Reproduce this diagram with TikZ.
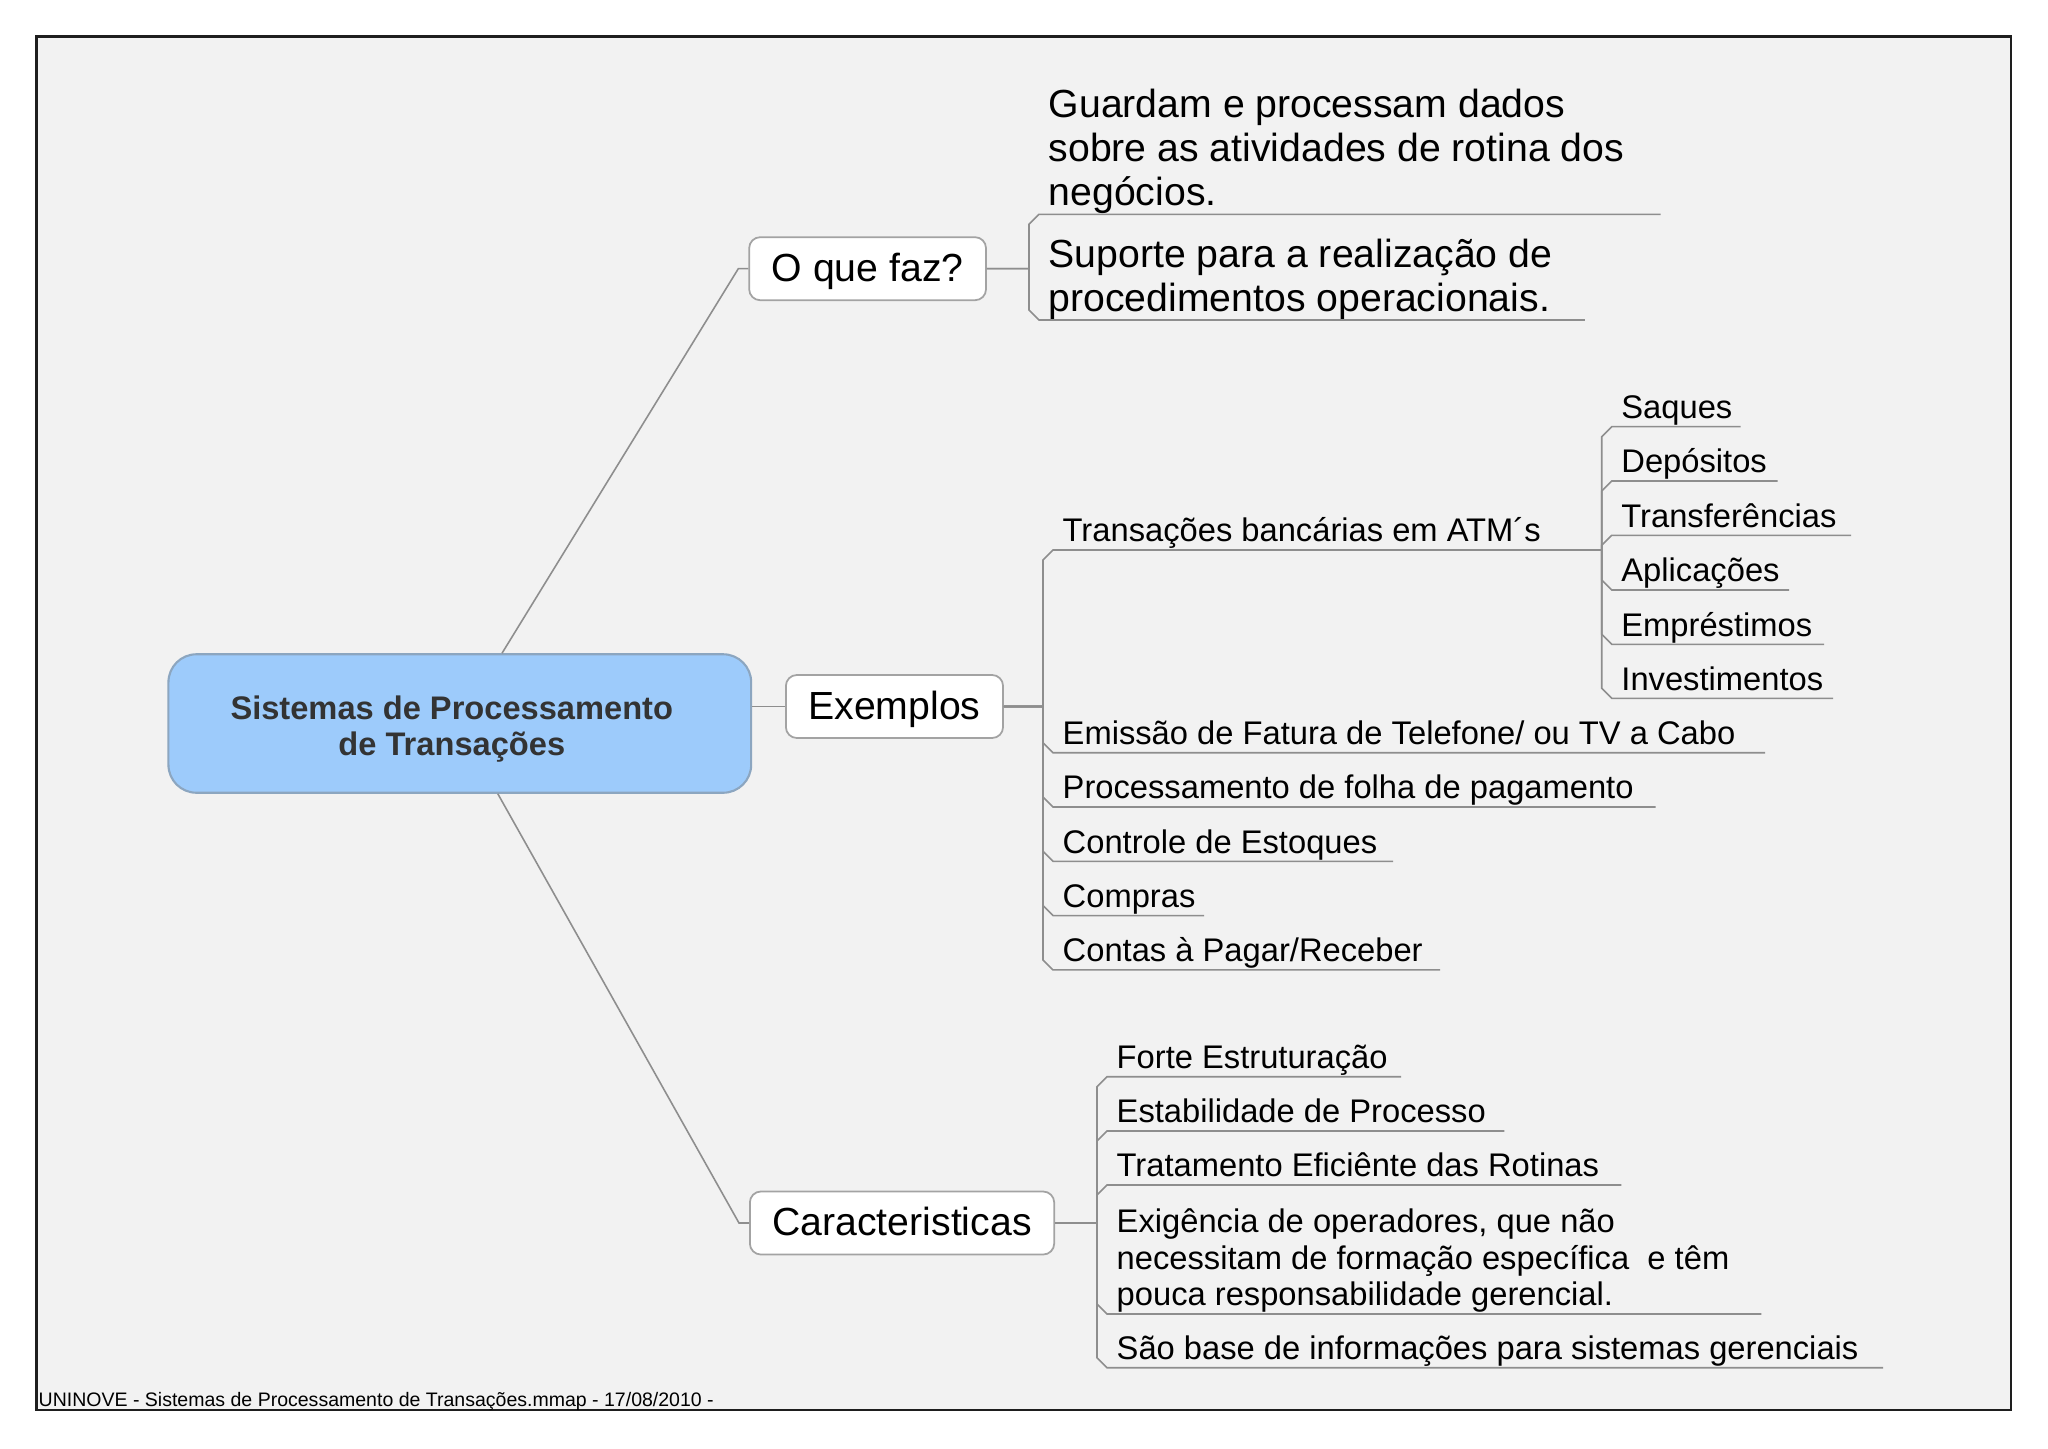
\documentclass[tikz,border=0pt]{standalone}
\usepackage{fontspec}
\setmainfont{Liberation Sans}
\usetikzlibrary{calc}
\definecolor{bggray}{HTML}{F2F2F2}
\definecolor{linegray}{HTML}{8E8E8E}
\definecolor{cfill}{HTML}{9DCBFB}
\definecolor{cdraw}{HTML}{8CA6C0}
\definecolor{boxdraw}{HTML}{A3A3A3}
\definecolor{ctext}{HTML}{333333}
\definecolor{framecol}{HTML}{1E1E1E}
\newcommand{\ud}{\rule[-0.075cm]{0pt}{0.075cm}}
\newcommand{\mmlink}[3]{\draw[conn] let \p1=(#1), \p2=(#2.south west) in (\p1) -- (\x2-2.845pt,\y1) -- (\x2-2.845pt,{\y2+2.845pt*sign(\y1-\y2)}) -- (\p2) -- ++(#3,0);}
\begin{document}
\begin{tikzpicture}[x=0.01cm,y=-0.01cm,
  conn/.style={draw=linegray, line width=0.45pt},
  central/.style={draw=cdraw, fill=cfill, line width=0.6pt, rounded corners=0.28cm,
    minimum width=5.824cm, minimum height=1.384cm, align=center, text=ctext,
    font=\fontsize{9.28pt}{10.3pt}\selectfont\bfseries},
  topic/.style={draw=boxdraw, fill=white, line width=0.5pt, rounded corners=0.11cm,
    minimum height=0.63cm, inner xsep=0.225cm, anchor=west, text height=8pt, text depth=0.7pt,
    font=\fontsize{11.15pt}{12.46pt}\selectfont},
  itemL/.style={anchor=south west, inner xsep=0.09cm, inner ysep=0pt, align=left,
    font=\fontsize{11.15pt}{12.46pt}\selectfont, execute at end node=\ud},
  itemS/.style={anchor=south west, inner xsep=0.09cm, inner ysep=0pt, align=left,
    font=\fontsize{9.3pt}{10.41pt}\selectfont, execute at end node=\ud},
  footer/.style={anchor=base west, inner sep=0pt, font=\fontsize{5.55pt}{6.5pt}\selectfont}
]
\useasboundingbox (0,0) rectangle (2048,1448);
\fill[white] (0,0) rectangle (2048,1448);
\draw[draw=framecol, fill=bggray, line width=0.7pt] (36.6,36.6) rectangle (2011,1410);

% central and main topics
\node[central] (c) at (459.8,723.5) {\rule{0pt}{0.34cm}Sistemas de Processamento\hspace*{0.16cm}\\de Transações\hspace*{0.16cm}};
\node[topic] (q) at (748.3,268.7) {O que faz?};
\node[topic] (ex) at (785,706.5) {Exemplos};
\node[topic] (ca) at (749,1223) {Caracteristicas};

\draw[conn] ([xshift=0.422cm]c.north) -- ([xshift=-0.1cm]q.west) -- (q.west);
\draw[conn] (c.east |- ex.west) -- (ex.west);
\draw[conn] ([xshift=0.38cm]c.south) -- ([xshift=-0.1cm]ca.west) -- (ca.west);

% O que faz?
\node[itemL] (g1) at (1039,214.3) {Guardam e processam dados\\sobre as atividades de rotina dos\\negócios.};
\node[itemL] (g2) at (1039,320) {Suporte para a realização de\\procedimentos operacionais.};
\mmlink{q.east}{g1}{621.7}
\mmlink{q.east}{g2}{545.8}

% Exemplos
\node[itemS] (tr) at (1053,550) {Transações bancárias em ATM´s};
\node[itemS] (e1) at (1053,752.7) {Emissão de Fatura de Telefone/ ou TV a Cabo};
\node[itemS] (e2) at (1053,807.0) {Processamento de folha de pagamento};
\node[itemS] (e3) at (1053,861.3) {Controle de Estoques};
\node[itemS] (e4) at (1053,915.6) {Compras};
\node[itemS] (e5) at (1053,969.9) {Contas à Pagar/Receber};
\mmlink{ex.east}{tr}{548.7}
\mmlink{ex.east}{e1}{712}
\mmlink{ex.east}{e2}{602.6}
\mmlink{ex.east}{e3}{340}
\mmlink{ex.east}{e4}{151}
\mmlink{ex.east}{e5}{387}

% ATM sub-items
\coordinate (tj) at (1601.7,550);
\node[itemS] (s1) at (1611.7,426.7) {Saques};
\node[itemS] (s2) at (1611.7,481.0) {Depósitos};
\node[itemS] (s3) at (1611.7,535.3) {Transferências};
\node[itemS] (s4) at (1611.7,590.0) {Aplicações};
\node[itemS] (s5) at (1611.7,644.3) {Empréstimos};
\node[itemS] (s6) at (1611.7,698.3) {Investimentos};
\mmlink{tj}{s1}{129}
\mmlink{tj}{s2}{166}
\mmlink{tj}{s3}{239.3}
\mmlink{tj}{s4}{177.3}
\mmlink{tj}{s5}{212.3}
\mmlink{tj}{s6}{221.3}

% Caracteristicas
\node[itemS] (f1) at (1107,1076.7) {Forte Estruturação};
\node[itemS] (f2) at (1107,1131.0) {Estabilidade de Processo};
\node[itemS] (f3) at (1107,1185.0) {Tratamento Eficiênte das Rotinas};
\node[itemS] (f4) at (1107,1314.0) {Exigência de operadores, que não\\necessitam de formação específica\ \ e têm\\pouca responsabilidade gerencial.};
\node[itemS] (f5) at (1107,1367.7) {São base de informações para sistemas gerenciais};
\mmlink{ca.east}{f1}{294}
\mmlink{ca.east}{f2}{397.3}
\mmlink{ca.east}{f3}{514.4}
\mmlink{ca.east}{f4}{654.4}
\mmlink{ca.east}{f5}{776}

\node[footer] (foot) at (38,1406.5) {UNINOVE - Sistemas de Processamento de Transações.mmap - 17/08/2010 -};
\end{tikzpicture}
\end{document}
